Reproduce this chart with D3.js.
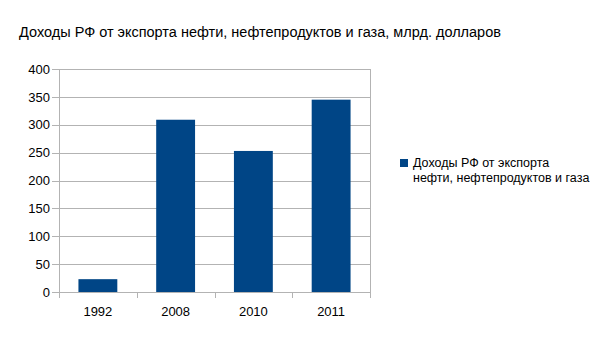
<!DOCTYPE html>
<html>
<head>
<meta charset="utf-8">
<script src="https://cdn.jsdelivr.net/npm/d3@7"></script>
<style>
body { margin: 0; background: #fff; }
text { font-family: "Liberation Sans", Arial, sans-serif; fill: #000; }
</style>
</head>
<body>
<div id="chart"></div>
<script>
var years = ["1992", "2008", "2010", "2011"];
var revenue = [23, 309, 253, 345];
var yTicks = [0, 50, 100, 150, 200, 250, 300, 350, 400];
var seriesName = "Доходы РФ от экспорта нефти, нефтепродуктов и газа";
var title = "Доходы РФ от экспорта нефти, нефтепродуктов и газа, млрд. долларов";

var W = 604, H = 340;
var margin = {top: 69, left: 59, bottom: 48, right: 234};
var width = W - margin.left - margin.right,
    height = H - margin.top - margin.bottom;

var svg = d3.select("#chart").append("svg")
    .attr("width", W)
    .attr("height", H);

var titleText = svg.append("text")
    .attr("x", 260)
    .attr("y", 37)
    .attr("text-anchor", "middle")
    .style("font-size", "16px")
    .text(title);
// fit the title to the width it takes in the original
var tw = titleText.node().getComputedTextLength();
titleText.style("font-size", (16 * 482 / tw).toFixed(2) + "px");

var g = svg.append("g")
    .attr("transform", "translate(" + margin.left + "," + margin.top + ")");

var x = d3.scaleBand().domain(years).range([0, width]).paddingInner(0.5).paddingOuter(0.25);
var y = d3.scaleLinear().domain([0, 400]).range([height, 0]);

// gridlines (extend a little left of the axis)
g.append("g")
    .selectAll("line")
    .data(yTicks)
    .enter().append("line")
    .attr("x1", -7)
    .attr("x2", width)
    .attr("y1", function(d){ return Math.round(y(d)) + 0.5; })
    .attr("y2", function(d){ return Math.round(y(d)) + 0.5; })
    .attr("stroke", "#b3b3b3");

// plot frame: left and right
g.append("line").attr("x1", 0.5).attr("x2", 0.5).attr("y1", 0).attr("y2", height + 6).attr("stroke", "#b3b3b3");
g.append("line").attr("x1", width + 0.5).attr("x2", width + 0.5).attr("y1", 0).attr("y2", height + 6).attr("stroke", "#b3b3b3");

// category boundary ticks
var step = x.step();
g.append("g")
    .selectAll("line")
    .data(years.slice(1))
    .enter().append("line")
    .attr("x1", function(d){ return Math.round(x(d) - step * 0.25) + 0.5; })
    .attr("x2", function(d){ return Math.round(x(d) - step * 0.25) + 0.5; })
    .attr("y1", height)
    .attr("y2", height + 6)
    .attr("stroke", "#b3b3b3");

// y labels
g.append("g")
    .selectAll("text")
    .data(yTicks)
    .enter().append("text")
    .attr("x", -9)
    .attr("y", function(d){ return y(d); })
    .attr("dy", "0.36em")
    .attr("text-anchor", "end")
    .style("font-size", "13px")
    .text(function(d){ return d; });

// bars
g.append("g")
    .selectAll("rect")
    .data(revenue)
    .enter().append("rect")
    .attr("x", function(d, i){ return x(years[i]); })
    .attr("width", x.bandwidth())
    .attr("y", function(d){ return y(d); })
    .attr("height", function(d){ return height - y(d); })
    .attr("fill", "#004586");

// x labels
g.append("g")
    .selectAll("text")
    .data(years)
    .enter().append("text")
    .attr("x", function(d){ return x(d) + x.bandwidth() / 2; })
    .attr("y", height + 19)
    .attr("dy", "0.36em")
    .attr("text-anchor", "middle")
    .style("font-size", "13px")
    .text(function(d){ return d; });

// legend
var lg = svg.append("g").attr("transform", "translate(400,159)");
lg.append("rect").attr("width", 8).attr("height", 8).attr("fill", "#004586");
lg.append("text").attr("x", 13).attr("y", 8).style("font-size", "12.5px").text("Доходы РФ от экспорта");
lg.append("text").attr("x", 13).attr("y", 23).style("font-size", "12.5px").text("нефти, нефтепродуктов и газа");
</script>
</body>
</html>
